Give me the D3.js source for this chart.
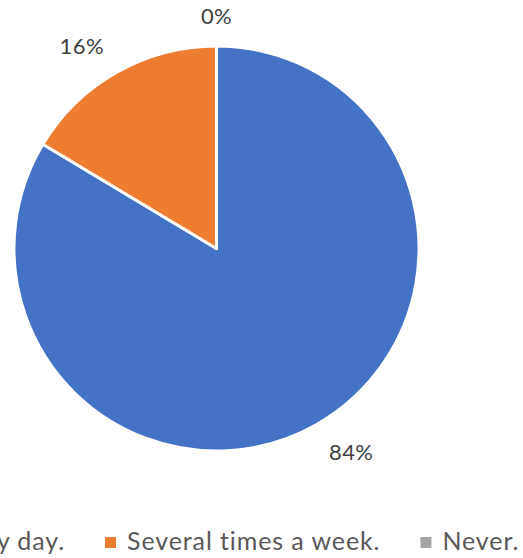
<!DOCTYPE html>
<html>
<head>
<meta charset="utf-8">
<script src="https://cdn.jsdelivr.net/npm/d3@7"></script>
<style>
  html, body { margin: 0; padding: 0; background: #fff; }
  svg { display: block; }
</style>
</head>
<body>
<svg id="chart" width="523" height="558"></svg>
<script>
// Survey answers: how often respondents do it
const categories = ["Every day.", "Several times a week.", "Never."];
const counts = [51, 10, 0];
const percentLabels = ["84%", "16%", "0%"];
const colors = ["#4472C4", "#ED7D31", "#A5A5A5"];

const svg = d3.select("#chart");
const cx = 216.5, cy = 248.5, radius = 202.5;
const font = "Lato, 'Open Sans', sans-serif";

const pie = d3.pie().sort(null).value(d => d.value);
const data = categories.map((c, i) => ({ name: c, value: counts[i], label: percentLabels[i], color: colors[i] }));
const arcs = pie(data);

const arc = d3.arc().innerRadius(0).outerRadius(radius);

const g = svg.append("g").attr("transform", `translate(${cx},${cy})`);

g.selectAll("path.slice")
  .data(arcs)
  .join("path")
  .attr("class", "slice")
  .attr("d", arc)
  .attr("fill", d => d.data.color)
  .attr("stroke", "#fff")
  .attr("stroke-width", 3)
  .attr("stroke-linejoin", "round");

// Outside-end data labels, placed on an ellipse around the pie
const labelRx = radius + 71, labelRy = radius + 31;
g.selectAll("text.pct")
  .data(arcs)
  .join("text")
  .attr("class", "pct")
  .attr("x", d => Math.sin((d.startAngle + d.endAngle) / 2) * labelRx)
  .attr("y", d => -Math.cos((d.startAngle + d.endAngle) / 2) * labelRy)
  .attr("text-anchor", "middle")
  .attr("dominant-baseline", "central")
  .attr("font-family", font)
  .attr("font-size", 22)
  .attr("letter-spacing", 0.4)
  .attr("fill", "#404040")
  .text(d => d.data.label);

// Legend along the bottom
const legend = svg.append("g").attr("transform", "translate(0,550)");
const swatch = 11, swGap = 11, itemGap = 40;
const items = legend.selectAll("g.item")
  .data(data)
  .join("g")
  .attr("class", "item");

items.append("rect")
  .attr("width", swatch)
  .attr("height", swatch)
  .attr("y", -13)
  .attr("fill", d => d.color);

items.append("text")
  .attr("x", swatch + swGap)
  .attr("font-family", font)
  .attr("font-size", 25)
  .attr("letter-spacing", 0.9)
  .attr("fill", "#595959")
  .text(d => d.name);

// Lay items out left to right, anchoring the second item's swatch
const widths = [];
items.each(function () { widths.push(this.querySelector("text").getComputedTextLength()); });
const itemW = widths.map(w => swatch + swGap + w);
let x0 = 105 - itemW[0] - itemGap;
items.attr("transform", (d, i) => {
  const x = x0;
  x0 += itemW[i] + itemGap;
  return `translate(${x},0)`;
});
</script>
</body>
</html>
